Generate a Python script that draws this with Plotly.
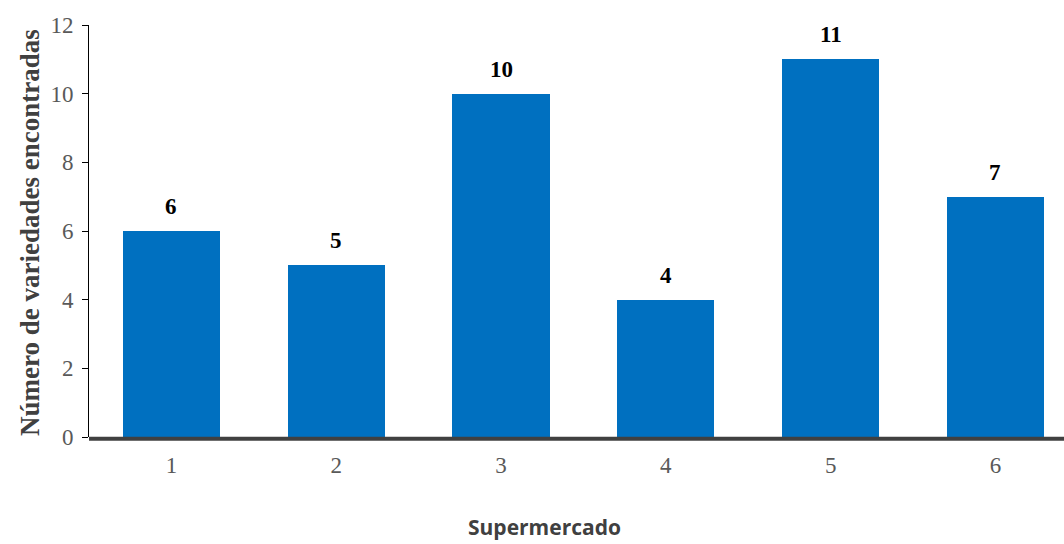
import plotly.graph_objects as go

supermercados = ["1", "2", "3", "4", "5", "6"]
variedades = [6, 5, 10, 4, 11, 7]
y_ticks = [0, 2, 4, 6, 8, 10, 12]

x_pos = list(range(1, len(supermercados) + 1))

fig = go.Figure()
fig.add_trace(go.Bar(
    x=x_pos,
    y=variedades,
    width=0.59,
    marker=dict(color="#0070C0", line=dict(width=0)),
    cliponaxis=False,
))

# Value labels above each bar
for xv, v in zip(x_pos, variedades):
    fig.add_annotation(
        x=xv, y=v, xref="x", yref="y",
        text=f"<b>{v}</b>",
        showarrow=False, yanchor="bottom", yshift=10,
        font=dict(family="Liberation Serif", size=23, color="#000000"),
    )

plot_w = 1064 - 89
plot_h = 544 - 25 - 107

fig.add_annotation(
    text="<b>Número de variedades encontradas</b>",
    x=(30 - 89) / plot_w, y=(437 - 233) / plot_h, xref="paper", yref="paper",
    xanchor="center", yanchor="middle",
    showarrow=False, textangle=-90,
    font=dict(family="Liberation Serif", size=27, color="#404040"),
)
fig.add_annotation(
    text="<b>Supermercado</b>",
    x=(544 - 89) / plot_w, y=(437 - 527) / plot_h, xref="paper", yref="paper",
    xanchor="center", yanchor="middle",
    showarrow=False,
    font=dict(family="Open Sans", size=21, color="#404040"),
)

fig.update_layout(
    width=1064,
    height=544,
    margin=dict(l=89, r=0, t=25, b=107),
    paper_bgcolor="white",
    plot_bgcolor="white",
    showlegend=False,
    bargap=0,
    xaxis=dict(
        range=[0.5, 6.416],
        tickmode="array",
        tickvals=x_pos,
        ticktext=supermercados,
        tickfont=dict(family="Liberation Serif", size=23, color="#595959"),
        ticks="",
        ticklabelstandoff=12,
        showline=False,
        showgrid=False,
        zeroline=False,
    ),
    yaxis=dict(
        range=[0, 12],
        tickmode="array",
        tickvals=y_ticks,
        tickfont=dict(family="Liberation Serif", size=23, color="#595959"),
        ticks="outside",
        ticklen=6,
        tickcolor="#000000",
        tickwidth=1,
        ticklabelstandoff=4,
        showline=True,
        linecolor="#000000",
        linewidth=1,
        showgrid=False,
        zeroline=False,
    ),
)

# Thick baseline along the bottom of the plot area (paper refs so it is not clipped)
fig.add_shape(
    type="line", xref="paper", yref="paper",
    x0=0, x1=1, y0=-0.004, y1=-0.004,
    line=dict(color="#404040", width=4),
    layer="above",
)

fig.write_html("out.html")
